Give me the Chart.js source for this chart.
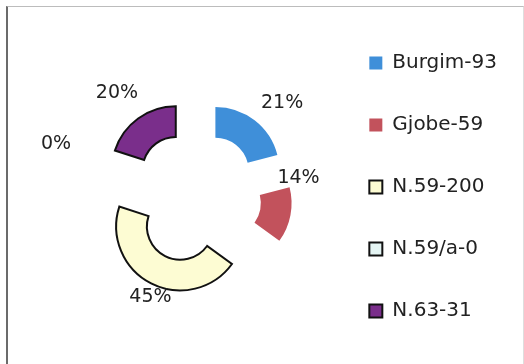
<!DOCTYPE html>
<html><head><meta charset="utf-8">
<script src="https://cdn.jsdelivr.net/npm/chart.js@4"></script>
<style>
html,body{margin:0;padding:0;background:#fff;overflow:hidden}
#wrap{position:relative;width:524px;height:364px;overflow:hidden}
#frame{position:absolute;left:6px;top:6px;width:515px;height:380px;border-left:2px solid #6b6b6b;border-top:1px solid #bcbcbc;border-right:1px solid #dedede;pointer-events:none}
canvas{position:absolute;left:0;top:0}
</style></head><body>
<div id="wrap"><canvas id="c" width="524" height="383"></canvas><div id="frame"></div></div>
<script>
const categories = ['Burgim-93', 'Gjobe-59', 'N.59-200', 'N.59/a-0', 'N.63-31'];
const shares = [21, 14, 45, 0, 20];
const labelAngleNudge = [5, -21, -3, 3, -1];     // degrees, label placement tweaks
const labelDistance = [128, 105, 110, 149, 130]; // px from centre

const fills = ['#3f8fd9', '#c2525c', '#fdfcd3', '#e4f4f3', '#7a2e8b'];
const strokes = ['#3f8fd9', '#c2525c', '#111111', '#111111', '#111111'];
const strokeWidths = [0, 0, 2, 2, 2];

const explodePlugin = {
  id: 'explode',
  beforeDatasetDraw(chart, args, opts) {
    const ctx = chart.ctx;
    args.meta.data.forEach(arc => {
      const half = (arc.startAngle + arc.endAngle) / 2;
      ctx.save();
      ctx.translate(Math.cos(half) * opts.distance, Math.sin(half) * opts.distance);
      arc.draw(ctx);
      ctx.restore();
    });
    return false;
  }
};

const sliceLabels = {
  id: 'sliceLabels',
  afterDatasetsDraw(chart, args, opts) {
    const ctx = chart.ctx;
    const meta = chart.getDatasetMeta(0);
    const total = shares.reduce((a, b) => a + b, 0);
    ctx.save();
    ctx.font = opts.font;
    ctx.fillStyle = opts.color;
    ctx.textAlign = 'center';
    ctx.textBaseline = 'middle';
    meta.data.forEach((arc, i) => {
      const a = (arc.startAngle + arc.endAngle) / 2 + labelAngleNudge[i] * Math.PI / 180;
      const d = labelDistance[i];
      ctx.fillText(Math.round(shares[i] / total * 100) + '%', arc.x + Math.cos(a) * d, arc.y + Math.sin(a) * d);
    });
    ctx.restore();
  }
};

new Chart(document.getElementById('c'), {
  type: 'doughnut',
  data: {
    labels: categories,
    datasets: [{
      data: shares,
      backgroundColor: fills,
      borderColor: strokes,
      borderWidth: strokeWidths,
      borderJoinStyle: 'miter',
      offset: 0
    }]
  },
  options: {
    responsive: false,
    animation: false,
    events: [],
    radius: 64,
    cutout: '52%',
    layout: { padding: { left: 63, right: 17, top: 11, bottom: 0 } },
    plugins: {
      legend: {
        position: 'right',
        align: 'start',
        labels: {
          boxWidth: 13,
          boxHeight: 13,
          padding: 42,
          color: '#222',
          font: { family: 'DejaVu Sans', size: 20 }
        }
      },
      tooltip: { enabled: false },
      explode: { distance: 33 },
      sliceLabels: { font: '19px "DejaVu Sans"', color: '#222' }
    }
  },
  plugins: [explodePlugin, sliceLabels]
});
</script>
</body></html>
